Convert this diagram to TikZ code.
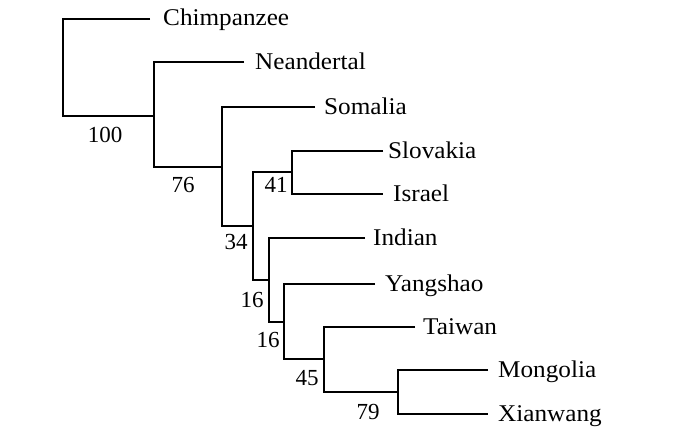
\documentclass[tikz,border=0pt]{standalone}
\usepackage{fontspec}
\setmainfont{Liberation Serif}
\newcommand\wtxt[1]{\scalebox{1.05}[1]{#1}}
\begin{document}
\begin{tikzpicture}[x=1pt,y=-1pt,
  branch/.style={line width=1.4pt, line join=miter},
  taxon/.style={anchor=base west, inner sep=0pt, font=\fontsize{24}{24}\selectfont},
  boot/.style={anchor=center, inner sep=0pt, font=\fontsize{23}{23}\selectfont}]
\useasboundingbox[fill=white] (0,0) rectangle (700,436);
% internal node coordinates (bar x, entry y)
\coordinate (nR)   at (63,19);
\coordinate (n76)  at (154,116);
\coordinate (n34)  at (222,167);
\coordinate (n16a) at (253,226);
\coordinate (n41)  at (292,172);
\coordinate (n16b) at (269,280);
\coordinate (n16c) at (284,322);
\coordinate (n45)  at (324,359);
\coordinate (n79)  at (398,392);
% leaf line ends
\coordinate (lChim) at (150,19);
\coordinate (lNean) at (244,62);
\coordinate (lSoma) at (315,107);
\coordinate (lSlov) at (383,151);
\coordinate (lIsra) at (383,194);
\coordinate (lIndi) at (365,238);
\coordinate (lYang) at (375,284);
\coordinate (lTaiw) at (415,327);
\coordinate (lMong) at (488,370);
\coordinate (lXian) at (488,414);
% taxa
\node[taxon] (tChim) at (163,26) {\wtxt{Chimpanzee}};
\node[taxon] (tNean) at (255,69) {\wtxt{Neandertal}};
\node[taxon] (tSoma) at (324,114) {\wtxt{Somalia}};
\node[taxon] (tSlov) at (388,158) {\wtxt{Slovakia}};
\node[taxon] (tIsra) at (393,201) {\wtxt{Israel}};
\node[taxon] (tIndi) at (373,245) {\wtxt{Indian}};
\node[taxon] (tYang) at (385,291) {\wtxt{Yangshao}};
\node[taxon] (tTaiw) at (423,334) {\wtxt{Taiwan}};
\node[taxon] (tMong) at (498,377) {\wtxt{Mongolia}};
\node[taxon] (tXian) at (498,421) {\wtxt{Xianwang}};
% branches
\draw[branch] (lChim) -| (nR) |- (n76);
\draw[branch] (lNean) -| (n76) |- (n34);
\draw[branch] (lSoma) -| (n34) |- (n16a);
\draw[branch] (n41) -| (n16a) |- (n16b);
\draw[branch] (lSlov) -| (n41) |- (lIsra);
\draw[branch] (lIndi) -| (n16b) |- (n16c);
\draw[branch] (lYang) -| (n16c) |- (n45);
\draw[branch] (lTaiw) -| (n45) |- (n79);
\draw[branch] (lMong) -| (n79) |- (lXian);
% bootstrap values
\node[boot] (b100) at (105,135) {100};
\node[boot] (b76)  at (183,185) {76};
\node[boot] (b34)  at (236,242) {34};
\node[boot] (b41)  at (276,185) {41};
\node[boot] (b16a) at (252,300) {16};
\node[boot] (b16b) at (268,340) {16};
\node[boot] (b45)  at (307,378) {45};
\node[boot] (b79)  at (368,412) {79};
\end{tikzpicture}
\end{document}
